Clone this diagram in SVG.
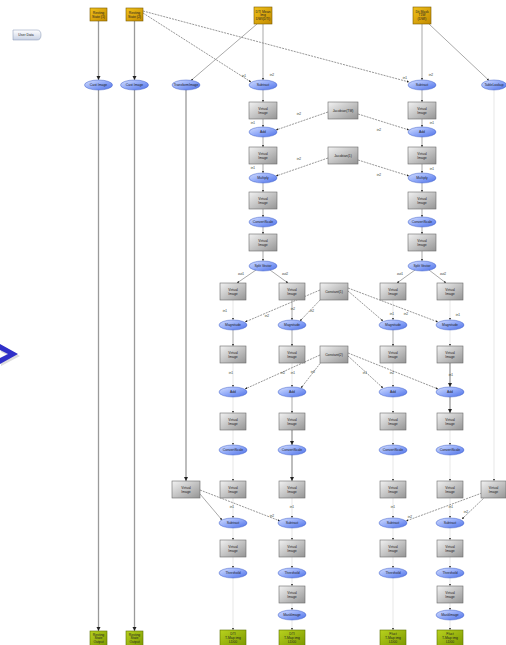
<svg xmlns="http://www.w3.org/2000/svg" width="506" height="645" viewBox="0 0 506 645">
<defs>
<linearGradient id="gGray" x1="0" y1="0" x2="1" y2="1"><stop offset="0" stop-color="#f2f2f2"/><stop offset="1" stop-color="#959595"/></linearGradient>
<linearGradient id="gBlue" x1="0" y1="0" x2="1" y2="1"><stop offset="0" stop-color="#d6e0ff"/><stop offset="0.5" stop-color="#8fa8f8"/><stop offset="1" stop-color="#4d70e6"/></linearGradient>
<linearGradient id="gGold" x1="0" y1="0" x2="1" y2="1"><stop offset="0" stop-color="#f2c21a"/><stop offset="1" stop-color="#c28a00"/></linearGradient>
<linearGradient id="gGreen" x1="0" y1="0" x2="1" y2="1"><stop offset="0" stop-color="#b8d21e"/><stop offset="1" stop-color="#7c9800"/></linearGradient>
<linearGradient id="gTag" x1="0" y1="0" x2="0" y2="1"><stop offset="0" stop-color="#ffffff"/><stop offset="1" stop-color="#c8d2e4"/></linearGradient>
<marker id="ah" viewBox="0 0 6 6" refX="6" refY="3" markerWidth="3.2" markerHeight="3.2" orient="auto"><path d="M0,0 L6,3 L0,6 z" fill="#222"/></marker>
</defs>
<style>
.vi rect{fill:url(#gGray);stroke:#6a6a6a;stroke-width:.6}
.op ellipse{fill:url(#gBlue);stroke:#4060c8;stroke-width:.5}
.src rect{fill:url(#gGold);stroke:#7a5a00;stroke-width:.6}
.snk rect{fill:url(#gGreen);stroke:#5a7000;stroke-width:.6}
.cst rect{fill:url(#gGray);stroke:#6a6a6a;stroke-width:.6}
text{font-family:"Liberation Sans",Arial,sans-serif;font-size:3.4px;text-anchor:middle;fill:#222}
.lbl{font-size:3.2px;fill:#333}
#edges line{stroke:#858585;stroke-width:.7;marker-end:url(#ah)}
#edges line.v{stroke:#9a9a9a;stroke-width:1.3}
#edges line.d{stroke:#6a6a6a;stroke-dasharray:2 1}
#edges line.f{stroke:#dcdcdc}
</style>
<rect width="506" height="645" fill="#fff"/>

<g id="userdata"><path d="M13,30 H37 Q41,30 41,35 Q41,40 37,40 H13 Z" fill="url(#gTag)" stroke="#8090b0" stroke-width=".5"/><text x="26" y="36.2">User Data</text></g>
<g id="chevron"><polygon points="1,346 20,356 1,366 1,360 9,356 1,352" fill="#bbb" opacity=".5"/><polygon points="0,344 18,354 0,364 0,358 8,354 0,350" fill="#3030c8"/></g>

<g id="edges">
<line class="v" x1="98.5" y1="21" x2="98.5" y2="80"/>
<line class="v" x1="98.5" y1="90" x2="98.5" y2="631"/>
<line class="v" x1="134.5" y1="21" x2="134.5" y2="80"/>
<line class="v" x1="134.5" y1="90" x2="134.5" y2="631"/>
<line class="d" x1="143" y1="13" x2="251" y2="82"/>
<line class="d" x1="143" y1="11" x2="409" y2="82"/>
<line x1="263" y1="24" x2="263" y2="80"/>
<line x1="257" y1="24" x2="191" y2="80.5"/>
<line x1="422" y1="24" x2="422" y2="80"/>
<line x1="429" y1="24" x2="489" y2="80.5"/>
<line class="v" x1="186" y1="90" x2="186" y2="481"/>
<line class="f" x1="494" y1="90" x2="494" y2="481"/>
<line x1="263" y1="90" x2="263" y2="102"/>
<line x1="263" y1="119" x2="263" y2="127"/>
<line x1="263" y1="137" x2="263" y2="147"/>
<line x1="263" y1="164" x2="263" y2="173"/>
<line x1="263" y1="183" x2="263" y2="192"/>
<line x1="263" y1="209" x2="263" y2="217"/>
<line x1="263" y1="227" x2="263" y2="234"/>
<line x1="263" y1="251" x2="263" y2="261"/>
<line x1="422" y1="90" x2="422" y2="102"/>
<line x1="422" y1="119" x2="422" y2="127"/>
<line x1="422" y1="137" x2="422" y2="147"/>
<line x1="422" y1="164" x2="422" y2="173"/>
<line x1="422" y1="183" x2="422" y2="192"/>
<line x1="422" y1="209" x2="422" y2="217"/>
<line x1="422" y1="227" x2="422" y2="234"/>
<line x1="422" y1="251" x2="422" y2="261"/>
<line class="d" x1="328" y1="112" x2="276" y2="130"/>
<line class="d" x1="358" y1="114" x2="409" y2="130"/>
<line class="d" x1="328" y1="158" x2="276" y2="176"/>
<line class="d" x1="358" y1="160" x2="409" y2="176"/>
<line x1="256" y1="270" x2="237" y2="283"/>
<line x1="270" y1="270" x2="288" y2="283"/>
<line x1="415" y1="270" x2="397" y2="283"/>
<line x1="429" y1="270" x2="446" y2="283"/>
<line class="f" x1="233" y1="300" x2="233" y2="320"/>
<line x1="292" y1="300" x2="292" y2="320"/>
<line class="f" x1="393" y1="300" x2="393" y2="320"/>
<line class="f" x1="450" y1="300" x2="450" y2="320"/>
<line class="d" x1="320" y1="290" x2="245" y2="322"/>
<line class="d" x1="322" y1="298" x2="300" y2="321"/>
<line class="d" x1="348" y1="291" x2="383" y2="321"/>
<line class="d" x1="348" y1="288" x2="438" y2="322"/>
<line x1="233" y1="330" x2="233" y2="346"/>
<line x1="292" y1="330" x2="292" y2="346"/>
<line x1="393" y1="330" x2="393" y2="346"/>
<line class="f" x1="450" y1="330" x2="450" y2="346"/>
<line class="f" x1="233" y1="363" x2="233" y2="387"/>
<line class="f" x1="292" y1="363" x2="292" y2="387"/>
<line class="f" x1="393" y1="363" x2="393" y2="387"/>
<line class="v" x1="450" y1="363" x2="450" y2="387"/>
<line class="d" x1="320" y1="355" x2="245" y2="389"/>
<line class="d" x1="322" y1="361" x2="301" y2="388"/>
<line class="d" x1="348" y1="356" x2="383" y2="388"/>
<line class="d" x1="348" y1="353" x2="438" y2="389"/>
<line class="f" x1="233" y1="397" x2="233" y2="413"/>
<line x1="292" y1="397" x2="292" y2="413"/>
<line class="f" x1="393" y1="397" x2="393" y2="413"/>
<line class="v" x1="450" y1="397" x2="450" y2="413"/>
<line class="f" x1="233" y1="430" x2="233" y2="445"/>
<line class="v" x1="292" y1="430" x2="292" y2="445"/>
<line class="f" x1="393" y1="430" x2="393" y2="445"/>
<line class="f" x1="450" y1="430" x2="450" y2="445"/>
<line class="f" x1="233" y1="455" x2="233" y2="481"/>
<line class="v" x1="292" y1="455" x2="292" y2="481"/>
<line class="f" x1="393" y1="455" x2="393" y2="481"/>
<line class="f" x1="450" y1="455" x2="450" y2="481"/>
<line class="f" x1="233" y1="498" x2="233" y2="518"/>
<line class="f" x1="292" y1="498" x2="292" y2="518"/>
<line class="f" x1="393" y1="498" x2="393" y2="518"/>
<line class="f" x1="450" y1="498" x2="450" y2="518"/>
<line x1="200" y1="494" x2="222" y2="520"/>
<line class="d" x1="200" y1="490" x2="280" y2="521"/>
<line class="d" x1="482" y1="493" x2="406" y2="521"/>
<line class="d" x1="485" y1="497" x2="462" y2="519"/>
<line class="f" x1="233" y1="528" x2="233" y2="540"/>
<line class="f" x1="292" y1="528" x2="292" y2="540"/>
<line class="f" x1="393" y1="528" x2="393" y2="540"/>
<line class="f" x1="450" y1="528" x2="450" y2="540"/>
<line class="f" x1="233" y1="557" x2="233" y2="568"/>
<line class="f" x1="292" y1="557" x2="292" y2="568"/>
<line class="f" x1="393" y1="557" x2="393" y2="568"/>
<line class="f" x1="450" y1="557" x2="450" y2="568"/>
<line class="f" x1="233" y1="578" x2="233" y2="630"/>
<line class="f" x1="393" y1="578" x2="393" y2="630"/>
<line class="f" x1="292" y1="578" x2="292" y2="586"/>
<line class="f" x1="450" y1="578" x2="450" y2="586"/>
<line class="f" x1="292" y1="603" x2="292" y2="610"/>
<line class="f" x1="450" y1="603" x2="450" y2="610"/>
<line class="f" x1="292" y1="620" x2="292" y2="630"/>
<line class="f" x1="450" y1="620" x2="450" y2="630"/>
</g>

<g id="edge-labels" class="lbl">
<text class="lbl" x="244" y="77">in1</text><text class="lbl" x="272" y="76">in2</text>
<text class="lbl" x="405" y="79">in1</text><text class="lbl" x="431" y="76">in2</text>
<text class="lbl" x="253" y="124">in1</text><text class="lbl" x="299" y="115">in2</text>
<text class="lbl" x="432" y="124">in1</text><text class="lbl" x="379" y="131">in2</text>
<text class="lbl" x="253" y="169">in1</text><text class="lbl" x="299" y="160">in2</text>
<text class="lbl" x="432" y="170">in1</text><text class="lbl" x="379" y="176">in2</text>
<text class="lbl" x="241" y="275">out1</text><text class="lbl" x="285" y="275">out2</text>
<text class="lbl" x="400" y="275">out1</text><text class="lbl" x="443" y="275">out2</text>
<text class="lbl" x="225" y="312">in1</text><text class="lbl" x="267" y="317">in2</text>
<text class="lbl" x="293" y="310">in2</text><text class="lbl" x="312" y="312">in2</text>
<text class="lbl" x="392" y="315">in1</text><text class="lbl" x="406" y="315">in2</text>
<text class="lbl" x="458" y="316">in1</text>
<text class="lbl" x="231" y="374">in1</text><text class="lbl" x="283" y="374">in2</text>
<text class="lbl" x="293" y="374">in1</text><text class="lbl" x="313" y="373">in2</text>
<text class="lbl" x="365" y="374">in1</text><text class="lbl" x="392" y="374">in2</text>
<text class="lbl" x="451" y="376">in1</text>
<text class="lbl" x="232" y="508">in1</text><text class="lbl" x="272" y="517">in2</text>
<text class="lbl" x="292" y="508">in1</text>
<text class="lbl" x="393" y="508">in1</text><text class="lbl" x="410" y="518">in2</text>
<text class="lbl" x="451" y="508">in1</text><text class="lbl" x="466" y="513">in2</text>
</g>

<g id="srcA" class="src"><rect x="90" y="8" width="17" height="13"/><text x="98.5" y="13.5">Resting</text><text x="98.5" y="17.5">State (1)</text></g>
<g id="srcB" class="src"><rect x="126" y="8" width="17" height="13"/><text x="134.5" y="13.5">Resting</text><text x="134.5" y="17.5">State (2)</text></g>
<g id="srcC" class="src"><rect x="254" y="7" width="18" height="17"/><text x="263" y="12.5">DTI Mean</text><text x="263" y="16.3">Img</text><text x="263" y="20.1">DWI(DTI)</text></g>
<g id="srcD" class="src"><rect x="413" y="7" width="18" height="17"/><text x="422" y="12.5">Dti Mask</text><text x="422" y="16.3">T1W</text><text x="422" y="20.1">(DWI)</text></g>

<g id="cast1" class="op"><ellipse cx="98.5" cy="85" rx="14" ry="5"/><text x="98.5" y="86.2">Cast Image</text></g>
<g id="cast2" class="op"><ellipse cx="134.5" cy="85" rx="14" ry="5"/><text x="134.5" y="86.2">Cast Image</text></g>
<g id="transform" class="op"><ellipse cx="186" cy="85" rx="14" ry="5"/><text x="186" y="86.2">TransformImage</text></g>
<g id="tablelookup" class="op"><ellipse cx="494" cy="85" rx="12.5" ry="5"/><text x="494" y="86.2">TableLookup</text></g>

<g id="sub1" class="op"><ellipse cx="263" cy="85" rx="14" ry="5"/><text x="263" y="86.2">Subtract</text></g>
<g id="vi1a" class="vi"><rect x="249" y="102" width="28" height="17"/><text x="263" y="109.5">Virtual</text><text x="263" y="113.5">Image</text></g>
<g id="add1" class="op"><ellipse cx="263" cy="132" rx="14" ry="5"/><text x="263" y="133.2">Add</text></g>
<g id="vi1b" class="vi"><rect x="249" y="147" width="28" height="17"/><text x="263" y="154.5">Virtual</text><text x="263" y="158.5">Image</text></g>
<g id="mul1" class="op"><ellipse cx="263" cy="178" rx="14" ry="5"/><text x="263" y="179.2">Multiply</text></g>
<g id="vi1c" class="vi"><rect x="249" y="192" width="28" height="17"/><text x="263" y="199.5">Virtual</text><text x="263" y="203.5">Image</text></g>
<g id="cs1" class="op"><ellipse cx="263" cy="222" rx="14" ry="5"/><text x="263" y="223.2">ConvertScale</text></g>
<g id="vi1d" class="vi"><rect x="249" y="234" width="28" height="17"/><text x="263" y="241.5">Virtual</text><text x="263" y="245.5">Image</text></g>
<g id="split1" class="op"><ellipse cx="263" cy="266" rx="14" ry="5"/><text x="263" y="267.2">Split Vector</text></g>

<g id="sub2" class="op"><ellipse cx="422" cy="85" rx="14" ry="5"/><text x="422" y="86.2">Subtract</text></g>
<g id="vi2a" class="vi"><rect x="408" y="102" width="28" height="17"/><text x="422" y="109.5">Virtual</text><text x="422" y="113.5">Image</text></g>
<g id="add2" class="op"><ellipse cx="422" cy="132" rx="14" ry="5"/><text x="422" y="133.2">Add</text></g>
<g id="vi2b" class="vi"><rect x="408" y="147" width="28" height="17"/><text x="422" y="154.5">Virtual</text><text x="422" y="158.5">Image</text></g>
<g id="mul2" class="op"><ellipse cx="422" cy="178" rx="14" ry="5"/><text x="422" y="179.2">Multiply</text></g>
<g id="vi2c" class="vi"><rect x="408" y="192" width="28" height="17"/><text x="422" y="199.5">Virtual</text><text x="422" y="203.5">Image</text></g>
<g id="cs2" class="op"><ellipse cx="422" cy="222" rx="14" ry="5"/><text x="422" y="223.2">ConvertScale</text></g>
<g id="vi2d" class="vi"><rect x="408" y="234" width="28" height="17"/><text x="422" y="241.5">Virtual</text><text x="422" y="245.5">Image</text></g>
<g id="split2" class="op"><ellipse cx="422" cy="266" rx="14" ry="5"/><text x="422" y="267.2">Split Vector</text></g>

<g id="const1" class="cst"><rect x="328" y="102" width="30" height="17"/><text x="343" y="111.5">Jacobian(TM)</text></g>
<g id="const2" class="cst"><rect x="328" y="147" width="30" height="17"/><text x="343" y="156.5">Jacobian(1)</text></g>
<g id="const3" class="cst"><rect x="320" y="283" width="28" height="17"/><text x="334" y="292.5">Constant(1)</text></g>
<g id="const4" class="cst"><rect x="320" y="346" width="28" height="17"/><text x="334" y="355.5">Constant(2)</text></g>

<g id="vi_t" class="vi"><rect x="172" y="481" width="28" height="17"/><text x="186" y="488.5">Virtual</text><text x="186" y="492.5">Image</text></g>
<g id="vi_l" class="vi"><rect x="481" y="481" width="25" height="17"/><text x="493.5" y="488.5">Virtual</text><text x="493.5" y="492.5">Image</text></g>

<!-- column a -->
<g id="a_vi1" class="vi"><rect x="220" y="283" width="26" height="17"/><text x="233" y="290.5">Virtual</text><text x="233" y="294.5">Image</text></g>
<g id="a_mag" class="op"><ellipse cx="233" cy="325" rx="14" ry="5"/><text x="233" y="326.2">Magnitude</text></g>
<g id="a_vi2" class="vi"><rect x="220" y="346" width="26" height="17"/><text x="233" y="353.5">Virtual</text><text x="233" y="357.5">Image</text></g>
<g id="a_add" class="op"><ellipse cx="233" cy="392" rx="14" ry="5"/><text x="233" y="393.2">Add</text></g>
<g id="a_vi3" class="vi"><rect x="220" y="413" width="26" height="17"/><text x="233" y="420.5">Virtual</text><text x="233" y="424.5">Image</text></g>
<g id="a_cs" class="op"><ellipse cx="233" cy="450" rx="14" ry="5"/><text x="233" y="451.2">ConvertScale</text></g>
<g id="a_vi4" class="vi"><rect x="220" y="481" width="26" height="17"/><text x="233" y="488.5">Virtual</text><text x="233" y="492.5">Image</text></g>
<g id="a_sub" class="op"><ellipse cx="233" cy="523" rx="14" ry="5"/><text x="233" y="524.2">Subtract</text></g>
<g id="a_vi5" class="vi"><rect x="220" y="540" width="26" height="17"/><text x="233" y="547.5">Virtual</text><text x="233" y="551.5">Image</text></g>
<g id="a_thr" class="op"><ellipse cx="233" cy="573" rx="14" ry="5"/><text x="233" y="574.2">Threshold</text></g>
<g id="a_out" class="snk"><rect x="220" y="630" width="26" height="16"/><text x="233" y="635">DTI</text><text x="233" y="638.8">T-Map img</text><text x="233" y="642.6">LD00</text></g>

<!-- column b -->
<g id="b_vi1" class="vi"><rect x="279" y="283" width="26" height="17"/><text x="292" y="290.5">Virtual</text><text x="292" y="294.5">Image</text></g>
<g id="b_mag" class="op"><ellipse cx="292" cy="325" rx="14" ry="5"/><text x="292" y="326.2">Magnitude</text></g>
<g id="b_vi2" class="vi"><rect x="279" y="346" width="26" height="17"/><text x="292" y="353.5">Virtual</text><text x="292" y="357.5">Image</text></g>
<g id="b_add" class="op"><ellipse cx="292" cy="392" rx="14" ry="5"/><text x="292" y="393.2">Add</text></g>
<g id="b_vi3" class="vi"><rect x="279" y="413" width="26" height="17"/><text x="292" y="420.5">Virtual</text><text x="292" y="424.5">Image</text></g>
<g id="b_cs" class="op"><ellipse cx="292" cy="450" rx="14" ry="5"/><text x="292" y="451.2">ConvertScale</text></g>
<g id="b_vi4" class="vi"><rect x="279" y="481" width="26" height="17"/><text x="292" y="488.5">Virtual</text><text x="292" y="492.5">Image</text></g>
<g id="b_sub" class="op"><ellipse cx="292" cy="523" rx="14" ry="5"/><text x="292" y="524.2">Subtract</text></g>
<g id="b_vi5" class="vi"><rect x="279" y="540" width="26" height="17"/><text x="292" y="547.5">Virtual</text><text x="292" y="551.5">Image</text></g>
<g id="b_thr" class="op"><ellipse cx="292" cy="573" rx="14" ry="5"/><text x="292" y="574.2">Threshold</text></g>
<g id="b_vi6" class="vi"><rect x="279" y="586" width="26" height="17"/><text x="292" y="593.5">Virtual</text><text x="292" y="597.5">Image</text></g>
<g id="b_mask" class="op"><ellipse cx="292" cy="615" rx="14" ry="5"/><text x="292" y="616.2">MaskImage</text></g>
<g id="b_out" class="snk"><rect x="279" y="630" width="26" height="16"/><text x="292" y="635">DTI</text><text x="292" y="638.8">T-Map img</text><text x="292" y="642.6">LD00</text></g>

<!-- column c -->
<g id="c_vi1" class="vi"><rect x="380" y="283" width="26" height="17"/><text x="393" y="290.5">Virtual</text><text x="393" y="294.5">Image</text></g>
<g id="c_mag" class="op"><ellipse cx="393" cy="325" rx="14" ry="5"/><text x="393" y="326.2">Magnitude</text></g>
<g id="c_vi2" class="vi"><rect x="380" y="346" width="26" height="17"/><text x="393" y="353.5">Virtual</text><text x="393" y="357.5">Image</text></g>
<g id="c_add" class="op"><ellipse cx="393" cy="392" rx="14" ry="5"/><text x="393" y="393.2">Add</text></g>
<g id="c_vi3" class="vi"><rect x="380" y="413" width="26" height="17"/><text x="393" y="420.5">Virtual</text><text x="393" y="424.5">Image</text></g>
<g id="c_cs" class="op"><ellipse cx="393" cy="450" rx="14" ry="5"/><text x="393" y="451.2">ConvertScale</text></g>
<g id="c_vi4" class="vi"><rect x="380" y="481" width="26" height="17"/><text x="393" y="488.5">Virtual</text><text x="393" y="492.5">Image</text></g>
<g id="c_sub" class="op"><ellipse cx="393" cy="523" rx="14" ry="5"/><text x="393" y="524.2">Subtract</text></g>
<g id="c_vi5" class="vi"><rect x="380" y="540" width="26" height="17"/><text x="393" y="547.5">Virtual</text><text x="393" y="551.5">Image</text></g>
<g id="c_thr" class="op"><ellipse cx="393" cy="573" rx="14" ry="5"/><text x="393" y="574.2">Threshold</text></g>
<g id="c_out" class="snk"><rect x="380" y="630" width="26" height="16"/><text x="393" y="635">Fluct</text><text x="393" y="638.8">T-Map img</text><text x="393" y="642.6">LD00</text></g>

<!-- column d -->
<g id="d_vi1" class="vi"><rect x="437" y="283" width="26" height="17"/><text x="450" y="290.5">Virtual</text><text x="450" y="294.5">Image</text></g>
<g id="d_mag" class="op"><ellipse cx="450" cy="325" rx="14" ry="5"/><text x="450" y="326.2">Magnitude</text></g>
<g id="d_vi2" class="vi"><rect x="437" y="346" width="26" height="17"/><text x="450" y="353.5">Virtual</text><text x="450" y="357.5">Image</text></g>
<g id="d_add" class="op"><ellipse cx="450" cy="392" rx="14" ry="5"/><text x="450" y="393.2">Add</text></g>
<g id="d_vi3" class="vi"><rect x="437" y="413" width="26" height="17"/><text x="450" y="420.5">Virtual</text><text x="450" y="424.5">Image</text></g>
<g id="d_cs" class="op"><ellipse cx="450" cy="450" rx="14" ry="5"/><text x="450" y="451.2">ConvertScale</text></g>
<g id="d_vi4" class="vi"><rect x="437" y="481" width="26" height="17"/><text x="450" y="488.5">Virtual</text><text x="450" y="492.5">Image</text></g>
<g id="d_sub" class="op"><ellipse cx="450" cy="523" rx="14" ry="5"/><text x="450" y="524.2">Subtract</text></g>
<g id="d_vi5" class="vi"><rect x="437" y="540" width="26" height="17"/><text x="450" y="547.5">Virtual</text><text x="450" y="551.5">Image</text></g>
<g id="d_thr" class="op"><ellipse cx="450" cy="573" rx="14" ry="5"/><text x="450" y="574.2">Threshold</text></g>
<g id="d_vi6" class="vi"><rect x="437" y="586" width="26" height="17"/><text x="450" y="593.5">Virtual</text><text x="450" y="597.5">Image</text></g>
<g id="d_mask" class="op"><ellipse cx="450" cy="615" rx="14" ry="5"/><text x="450" y="616.2">MaskImage</text></g>
<g id="d_out" class="snk"><rect x="437" y="630" width="26" height="16"/><text x="450" y="635">Fluct</text><text x="450" y="638.8">T-Map img</text><text x="450" y="642.6">LD00</text></g>

<g id="left-sinks">
<g id="g1" class="snk"><rect x="90" y="631" width="17" height="15"/><text x="98.5" y="635.5">Resting</text><text x="98.5" y="639.3">State</text><text x="98.5" y="643.1">Output</text></g>
<g id="g2" class="snk"><rect x="126" y="631" width="17" height="15"/><text x="134.5" y="635.5">Resting</text><text x="134.5" y="639.3">State</text><text x="134.5" y="643.1">Output</text></g>
</g>
</svg>
